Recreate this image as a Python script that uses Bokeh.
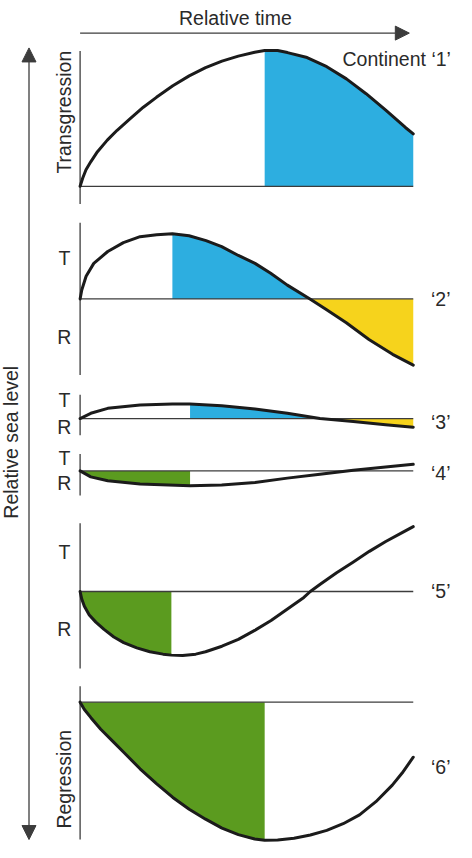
import numpy as np
from bokeh.plotting import figure
from bokeh.models import Range1d, Arrow, NormalHead
from bokeh.core.properties import value
from bokeh.embed import file_html
from bokeh.resources import INLINE

# ---------------- data (relative time 0-100, relative sea level in arbitrary units) ----------------
time_label = "Relative time"
sea_level_label = "Relative sea level"
upper_label = "Transgression"
lower_label = "Regression"
panel_names = ["Continent ‘1’", "‘2’", "‘3’", "‘4’", "‘5’", "‘6’"]

time_1 = [0, 0.79, 1.77, 3.24, 5.21, 8.16, 11.11, 15.04, 18.98, 22.91, 27.83, 32.74, 37.66, 42.58, 47.49,
          52.41, 55.4, 59.29, 62.24, 68.14, 74.04, 79.94, 85.84, 91.74, 97.64, 100]
level_1 = [0, 8.4, 16.7, 25.0, 35.0, 46.7, 56.7, 68.4, 80.0, 90.0, 101.7, 111.7, 120.0, 126.7, 131.7,
           135.7, 137.4, 137.4, 135.3, 130.3, 121.0, 108.7, 93.7, 77.0, 59.5, 53.0]

time_2 = [0, 0.5, 1.8, 4.1, 8.3, 13.0, 18.0, 23.0, 27.7, 32.7, 37.8, 42.5, 47.5, 52.5, 57.2, 62.2, 69.0,
          74.0, 79.9, 86.7, 93.8, 100]
level_2 = [0, 9, 23, 36, 48, 57, 63, 65, 66, 64, 59, 53, 44, 36, 26, 14, 0, -11, -24, -41, -56, -67]

time_3 = [0, 3.2, 8.3, 18.0, 27.7, 33.0, 42.5, 52.5, 62.2, 72.0, 82.0, 91.7, 100]
level_3 = [0, 5.3, 10.3, 13.7, 14.7, 14.7, 13, 9.7, 5.3, 0, -3, -6.3, -8.7]

time_4 = [0, 3.2, 8.3, 18.0, 33.0, 42.5, 52.5, 62.2, 72.0, 82.0, 91.7, 100]
level_4 = [0, -6, -10, -13.3, -15, -14.3, -11.7, -7.3, -3.3, 0.7, 4, 6.7]

time_5 = [0, 0.49, 1.28, 2.75, 4.72, 7.18, 10.13, 13.08, 17.01, 20.94, 24.88, 27.4, 30.78, 34.71, 37.66,
          42.58, 47.49, 52.41, 57.32, 62.24, 67.16, 69.1, 72.07, 76.99, 81.91, 86.82, 91.74, 96.66, 100]
level_5 = [0, -7.7, -15.0, -23.7, -31.0, -38.4, -46.0, -51.7, -57.0, -61.0, -63.4, -64.4, -64.7, -63.4, -61.0,
           -55.4, -48.4, -39.4, -29.4, -17.7, -6.0, 0, 7.3, 19.0, 29.6, 40.6, 50.6, 59.6, 65.6]

time_6 = [0, 1.28, 3.24, 6.19, 10.13, 13.08, 17.99, 22.91, 27.83, 32.74, 37.66, 42.58, 47.49, 52.41, 55.4,
          59.29, 64.21, 69.12, 74.04, 78.96, 83.87, 88.79, 93.71, 96.66, 100]
level_6 = [0, -7.4, -15.7, -27.4, -40.7, -50.7, -67.4, -82.4, -96.4, -108.4, -118.4, -127.4, -134.0, -138.4,
           -139.7, -139.4, -137.7, -134.4, -129.7, -123.0, -114.0, -100.7, -84.0, -71.7, -55.7]

# shaded phases: panel number, start time, end time, phase kind
shade_panel = [1, 2, 2, 3, 3, 4, 5, 6]
shade_start = [55.4, 27.7, 69.0, 33.0, 72.0, 0, 0, 0]
shade_end = [100, 69.0, 100, 72.0, 100, 33.0, 27.4, 55.4]
shade_kind = ["blue", "blue", "yellow", "blue", "yellow", "green", "green", "green"]

curves = {1: (time_1, level_1), 2: (time_2, level_2), 3: (time_3, level_3),
          4: (time_4, level_4), 5: (time_5, level_5), 6: (time_6, level_6)}

# ---------------- layout / style ----------------
FONT = value("Liberation Sans")
FS = "19.5px"
X0, XS = 89, 3.39              # time origin and scale (page units)
base = {1: 192, 2: 306, 3: 427, 4: 480, 5: 602, 6: 714}
axis_span = {1: (55, 210), 2: (229, 383), 3: (403, 444), 4: (463, 505), 5: (533, 680), 6: (698, 853)}
tr_labels = {2: (265, 345), 3: (408, 436), 4: (467, 492), 5: (562, 640)}
name_y = {1: 63, 2: 306, 3: 430, 4: 482, 5: 602, 6: 780}
colors = {"blue": "#2daee0", "yellow": "#f6d31c", "green": "#5b9b1f"}
INK = "#1b1b1b"
RULE = "#3c3c3c"
TXT = "#2a2a2a"

p = figure(width=456, height=842, x_range=Range1d(8, 472), y_range=Range1d(856, 4),
           output_backend="svg", toolbar_location=None, min_border=0)
p.xaxis.visible = False
p.yaxis.visible = False
p.xgrid.visible = False
p.ygrid.visible = False
p.outline_line_color = None
p.background_fill_color = "white"


def px(t):
    return X0 + np.asarray(t, dtype=float) * XS


# fills
for pn, t0, t1, kind in zip(shade_panel, shade_start, shade_end, shade_kind):
    t, lv = curves[pn]
    t = np.asarray(t, float)
    lv = np.asarray(lv, float)
    m = (t >= t0 - 1e-9) & (t <= t1 + 1e-9)
    p.varea(x=px(t[m]), y1=np.full(m.sum(), base[pn]), y2=base[pn] - lv[m],
            fill_color=colors[kind], fill_alpha=1.0)

# baselines and panel axes
for pn in range(1, 7):
    p.line(x=px([0, 100]), y=[base[pn], base[pn]], line_color=RULE, line_width=1.3)
    a0, a1 = axis_span[pn]
    p.line(x=[X0, X0], y=[a0, a1], line_color=RULE, line_width=1.3)

# curves
for pn in range(1, 7):
    t, lv = curves[pn]
    p.line(x=px(t), y=base[pn] - np.asarray(lv, float), line_color=INK, line_width=3,
           line_join="round", line_cap="round")

# T / R labels
for pn, (ty, ry) in tr_labels.items():
    p.text(x=[73, 73], y=[ty, ry], text=["T", "R"], text_font=FONT, text_font_size=FS,
           text_align="center", text_baseline="middle", text_color=TXT)

p.text(x=[73], y=[117], text=[upper_label], angle=np.pi / 2, text_font=FONT, text_font_size=FS,
       text_align="center", text_baseline="middle", text_color=TXT)
p.text(x=[73], y=[792], text=[lower_label], angle=np.pi / 2, text_font=FONT, text_font_size=FS,
       text_align="center", text_baseline="middle", text_color=TXT)

# right-hand names
name_x = [356, 446, 446, 446, 446, 446]
p.text(x=name_x, y=[name_y[i] for i in range(1, 7)], text=panel_names, text_font=FONT,
       text_font_size=FS, text_align="left", text_baseline="middle", text_color=TXT)

# time arrow
p.text(x=[247], y=[22], text=[time_label], text_font=FONT, text_font_size=FS,
       text_align="center", text_baseline="middle", text_color=TXT)
p.add_layout(Arrow(end=NormalHead(size=14, fill_color=RULE, line_color=RULE),
                   x_start=89, y_start=37, x_end=424, y_end=37,
                   line_color=RULE, line_width=1.3))

# sea level arrow
p.add_layout(Arrow(start=NormalHead(size=14, fill_color=RULE, line_color=RULE),
                   end=NormalHead(size=14, fill_color=RULE, line_color=RULE),
                   x_start=37, y_start=52, x_end=37, y_end=853,
                   line_color=RULE, line_width=1.3))
p.text(x=[19], y=[451], text=[sea_level_label], angle=np.pi / 2, text_font=FONT, text_font_size=FS,
       text_align="center", text_baseline="middle", text_color=TXT)

open("out.html", "w").write(file_html(p, INLINE))
